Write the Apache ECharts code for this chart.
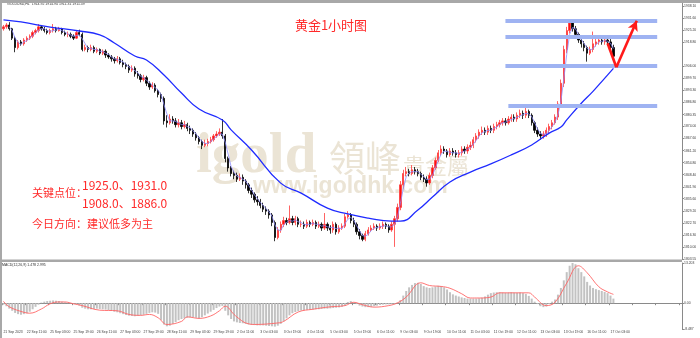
<!DOCTYPE html>
<html><head><meta charset="utf-8">
<script src="https://cdn.jsdelivr.net/npm/echarts@6/dist/echarts.min.js"></script>
<style>html,body{margin:0;padding:0;background:#fff}#c{width:700px;height:338px}</style>
</head><body><div id="c"></div>
<script>
// ---------- DATA (2-hour bars) ----------
const firstOpen = 1926;
const closes = [
1927,1928,1926,1921,1916,1919,1918,1920,1921,1922,
1924,1925,1927,1926,1925,1924,1925,1926,1925,1926,
1924,1923,1923,1922,1921,1924,1923,1915,1916,1915,
1916,1914,1915,1913,1914,1912,1911,1910,1909,1910,
1908,1907,1906,1904,1905,1902,1901,1899,1900,1897,
1895,1896,1893,1891,1889,1877,1876,1878,1877,1875,
1876,1874,1875,1873,1872,1870,1868,1866,1864,1865,
1866,1867,1869,1870,1871,1869,1857,1852,1849,1848,
1846,1847,1845,1843,1840,1838,1835,1834,1832,1830,
1829,1827,1823,1815,1819,1822,1824,1823,1825,1823,
1825,1822,1822,1821,1823,1822,1823,1821,1822,1820,
1822,1820,1819,1822,1818,1820,1821,1826,1827,1824,
1822,1818,1816,1814,1817,1819,1820,1821,1820,1821,
1822,1821,1819,1822,1825,1831,1843,1849,1850,1849,
1851,1850,1849,1847,1846,1844,1848,1852,1856,1860,
1862,1861,1859,1861,1860,1859,1860,1862,1861,1863,
1864,1867,1869,1871,1872,1871,1873,1872,1874,1875,
1876,1877,1876,1878,1879,1878,1880,1881,1880,1882,
1880,1876,1872,1870,1869,1870,1872,1874,1876,1879,
1886,1897,1915,1925,1929,1926,1923,1920,1918,1916,
1913,1915,1918,1919,1920,1919,1920,1919,1916,1911.39];
const highs = [
1928,1929,1929.5,1926.5,1922,1920,1920,1921,1922,1923,
1925,1926,1928.5,1928,1927,1926,1926,1928.5,1927,1927,
1926.5,1925,1924.5,1924,1923,1925,1925.5,1924,1917.5,1917,
1917.5,1917,1916,1915.5,1915,1915,1913,1912,1911,1911.5,
1911,1909.5,1908,1907,1906.5,1906,1903.5,1902,1901.5,1901,
1898,1897.5,1897,1894,1892,1890,1880,1880.5,1879.5,1878.5,
1878,1877.5,1877,1876,1874.5,1873,1871,1869,1867,1867,
1867.5,1868.5,1870,1871.5,1873,1878,1870,1858,1853,1850.5,
1849.5,1849,1848.5,1846,1844,1841.5,1839,1837,1835.5,1833.5,
1831.5,1830,1828,1824,1820.5,1823.5,1826,1825.5,1832,1826.5,
1826.5,1826,1824,1823.5,1824.5,1824,1824.5,1824,1823.5,1823,
1828,1823,1821.5,1823.5,1823,1821.5,1822.5,1827.5,1829,1828,
1825.5,1823,1819.5,1817,1818.5,1820.5,1821.5,1822.5,1822,1822.5,
1823.5,1823,1822,1823.5,1826.5,1833,1845,1851,1852.5,1851.5,
1853.5,1852.5,1851.5,1850,1848.5,1847.5,1849.5,1853.5,1857.5,1861.5,
1864,1863.5,1862,1862.5,1862.5,1861.5,1861.5,1863.5,1863.5,1864.5,
1866,1868.5,1870.5,1872.5,1874,1873.5,1874.5,1874.5,1875.5,1876.5,
1877.5,1878.5,1878.5,1879.5,1880.5,1880.5,1881.5,1883,1882.5,1884,
1883,1881,1877,1873.5,1871.5,1871.5,1873.5,1875.5,1877.5,1880.5,
1887.5,1899,1917,1927,1931,1930,1927.5,1924,1921.5,1919.5,
1917,1916.5,1924.5,1921,1921.5,1921.5,1921.5,1921.5,1920.5,1917.5];
const lows = [
1925,1926,1925,1920,1913.5,1915,1917,1917,1919,1920,
1921,1923,1924,1925,1924,1923,1923,1924,1924,1924.5,
1923,1922,1921.5,1921,1920,1920.5,1922,1914,1914,1913.5,
1914,1913,1913,1912,1912,1910.5,1910,1908.5,1907.5,1908,
1907,1905.5,1904.5,1902.5,1903,1900.5,1899.5,1897.5,1898,1895.5,
1893.5,1894,1892,1889.5,1887,1875,1873.5,1875,1875.5,1873.5,
1873.5,1872.5,1873,1871.5,1870,1868.5,1866.5,1864.5,1862,1863,
1863.5,1865,1866,1868,1869,1867.5,1855,1850,1847.5,1846,
1844.5,1845,1843,1841,1838.5,1836,1833.5,1832,1830.5,1828.5,
1827,1825,1821,1813,1814,1817.5,1820.5,1821.5,1822,1821.5,
1821.5,1820.5,1820.5,1819.5,1820,1820.5,1821,1819.5,1820,1818.5,
1819,1818.5,1817,1817.5,1816.5,1817,1819,1820,1825,1822.5,
1820.5,1816.5,1814,1813,1813,1816,1818,1819,1818.5,1819,
1819.5,1819.5,1817.5,1818,1810,1823.5,1829.5,1841,1847.5,1847.5,
1848,1848.5,1847.5,1845.5,1844.5,1842,1843,1846.5,1851,1855,
1858.5,1859.5,1857.5,1858,1858.5,1857.5,1857.5,1858.5,1859.5,1859.5,
1861.5,1862.5,1865.5,1867.5,1869.5,1869.5,1869.5,1870.5,1870.5,1872.5,
1873.5,1874.5,1874.5,1875,1876.5,1876.5,1876.5,1878.5,1878,1878.5,
1878.5,1874.5,1870.5,1868.5,1867,1867.5,1868.5,1870.5,1872.5,1875,
1877.5,1884.5,1895,1913,1923.5,1924.5,1921.5,1918.5,1916,1914,
1908.5,1912,1913.5,1916.5,1917.5,1917.5,1917.5,1917,1914,1910.5];
// slow moving average: [bar index, price]
const maSlow = [[0,1930.7],[6,1929.6],[16,1926.9],[26,1924.8],[33,1922.7],[38,1918.4],[45,1911.5],[49,1909.4],[55,1901.4],[61,1891.8],[67,1883.3],[75,1877.5],[78,1872.2],[85,1861.5],[95,1843.9],[102,1838.6],[111,1830.6],[118,1827.5],[125,1825.3],[133,1823.7],[136,1823.7],[142,1829.6],[147,1836.5],[153,1844.5],[160,1849.8],[167,1854.1],[174,1858.9],[181,1864.2],[187,1870.5],[191,1873.7],[193,1877.5],[198,1886.4],[202,1892.7],[205,1897.9],[209,1904.9]];
const macdHist = [
-0.5,-1.0,-1.8,-2.5,-3.2,-3.6,-3.8,-3.6,-3.3,-2.8,
-2.0,-1.2,-0.5,0.2,0.5,0.7,0.8,0.9,0.8,0.7,
0.5,0.3,0.1,-0.1,-0.3,-0.3,-0.8,-1.5,-1.8,-2.0,
-2.0,-1.9,-1.8,-1.9,-2.0,-2.1,-2.3,-2.5,-2.8,-3.0,
-3.3,-3.6,-3.9,-4.1,-4.2,-4.3,-4.2,-4.0,-3.8,-3.5,
-3.2,-3.0,-3.1,-3.5,-5.5,-7.0,-7.6,-7.4,-6.8,-6.2,
-5.6,-5.2,-5.0,-4.8,-4.7,-4.6,-4.8,-5.0,-4.6,-4.0,
-3.4,-2.8,-2.2,-1.6,-1.1,-0.9,-2.5,-4.0,-5.2,-6.0,
-6.3,-6.5,-6.6,-6.8,-7.0,-7.1,-7.2,-7.3,-7.3,-7.3,
-7.4,-7.5,-7.6,-7.7,-7.4,-6.8,-6.0,-5.0,-4.0,-3.3,
-2.9,-2.6,-2.4,-2.3,-2.2,-2.1,-2.1,-2.0,-2.0,-1.9,
-1.8,-1.8,-1.7,-1.6,-1.5,-1.4,-1.2,-0.8,0.4,0.7,
0.2,-0.3,-0.8,-1.1,-1.3,-1.3,-1.2,-1.0,-0.8,-0.6,
-0.5,-0.4,-0.4,-0.3,-0.3,0.2,1.0,2.5,4.0,5.2,
6.0,6.6,6.7,6.3,5.6,5.2,5.0,5.2,5.5,5.7,
5.6,5.2,4.5,3.6,2.9,2.5,2.2,1.9,1.7,1.5,
1.5,1.5,1.5,1.6,1.8,2.2,2.8,3.3,3.5,3.6,
3.6,3.5,3.4,3.5,3.6,3.5,3.4,3.5,3.3,3.0,
2.4,1.5,0.5,-0.3,-1.0,-1.3,-1.1,-0.3,0.5,1.2,
2.8,5.0,7.5,10.2,12.3,13.2,12.8,11.5,10.2,8.8,
7.0,5.8,5.0,4.6,4.3,4.0,3.7,3.3,2.5,1.5];
const macdSignal = [[0,0.6],[2,-1.2],[7,-3.0],[9,-3.3],[13,-1.9],[16,-0.2],[19,0.4],[21,0.4],[24,-0.2],[27,-0.8],[33,-2.3],[39,-2.5],[43,-3.7],[47,-4.0],[50,-3.7],[53,-4.8],[56,-7.0],[61,-6.0],[63,-4.5],[67,-5.0],[71,-4.2],[74,-2.5],[76,-1.0],[79,-3.7],[81,-5.3],[83,-6.5],[86,-7.0],[94,-6.5],[96,-6.0],[101,-2.9],[106,-2.0],[112,-1.2],[117,-0.8],[120,0.3],[123,-0.5],[127,-1.3],[132,-0.8],[135,0.1],[138,2.0],[143,6.7],[146,5.8],[150,5.5],[153,4.9],[157,3.1],[160,1.7],[163,1.7],[167,2.0],[170,3.4],[180,3.4],[182,2.0],[186,-0.8],[189,0.3],[193,6.6],[197,12.3],[200,10.0],[204,5.4],[207,3.7],[209,2.9]];
const priceTicks = [1938.10,1931.60,1925.20,1918.80,1906.00,1899.70,1893.30,1886.80,1880.35,1874.00,1867.60,1861.20,1854.80,1848.40,1841.90,1835.60,1829.20,1822.70,1816.30,1810.00,1803.55];
const macdTicks = [13.203, 0, -8.487];
const dateLabels = ['21 Sep 2023','22 Sep 11:00','25 Sep 03:00','25 Sep 19:00','26 Sep 11:00','27 Sep 03:00','27 Sep 19:00','28 Sep 11:00','29 Sep 03:00','29 Sep 19:00','2 Oct 11:00','3 Oct 03:00','3 Oct 19:00','4 Oct 11:00','5 Oct 03:00','5 Oct 19:00','6 Oct 11:00','9 Oct 03:00','9 Oct 19:00','10 Oct 11:00','11 Oct 03:00','11 Oct 19:00','12 Oct 11:00','13 Oct 03:00','13 Oct 19:00','16 Oct 11:00','17 Oct 03:00'];
const bandLevels = [1930.0, 1921.5, 1906.2, 1885.3];
const bandFrom = [172, 172, 172, 173], bandTo = [224, 224, 224, 224];
const arrowPath = [[207,1918.3],[210,1905.5],[217,1930.3]];
const header = 'GOLDUSD,H1  1914.92 1914.94 1911.31 1911.39';
const macdHeader = 'MACD(12,26,9) 1.478 2.995';
const title = '黄金1小时图';
const keyLabel = '关键点位：';
const keyLevels1 = '1925.0、1931.0';
const keyLevels2 = '1908.0、1886.0';
const direction = '今日方向：建议低多为主';

// ---------- BUILD ----------
const TOTAL = 233, STEP = 8;
const cats = Array.from({length: TOTAL}, (_, i) => String(i));
const candles = closes.map((c, i) => [i === 0 ? firstOpen : closes[i - 1], c, lows[i], highs[i]]);
const maFast = closes.map((c, i) => i < 2 ? null : +((closes[i] + closes[i - 1] + closes[i - 2]) / 3).toFixed(2));
const last = closes[closes.length - 1];
const mt = {fontSize: 3.4, color: '#404040', fontFamily: 'Liberation Sans'};
const wm = '#ebe4d5';
const red = '#ff2a2a';

const chart = echarts.init(document.getElementById('c'), null, {renderer: 'canvas'});
chart.setOption({
  animation: false,
  backgroundColor: '#fff',
  grid: [
    {left: 2, top: 3, width: 680, height: 256},
    {left: 2, top: 263, width: 680, height: 66}
  ],
  xAxis: [
    {type: 'category', gridIndex: 0, data: cats, show: false, boundaryGap: true},
    {type: 'category', gridIndex: 1, data: cats, boundaryGap: true,
      axisLine: {lineStyle: {color: '#8a8a8a', width: 1}},
      axisTick: {show: true, interval: STEP - 1, length: 2, lineStyle: {color: '#8a8a8a'}},
      axisLabel: Object.assign({interval: STEP - 1, margin: 1.5, align: 'left',
        formatter: (v, idx) => (idx % STEP === 0 && dateLabels[idx / STEP]) ? dateLabels[idx / STEP] : ''}, mt),
      splitLine: {show: false}}
  ],
  yAxis: [
    {type: 'value', gridIndex: 0, position: 'right', min: 1803.55, max: 1939.69, scale: true,
      axisLine: {show: true, lineStyle: {color: '#8a8a8a'}},
      axisTick: {show: true, length: 2, customValues: priceTicks, lineStyle: {color: '#8a8a8a'}},
      axisLabel: Object.assign({customValues: priceTicks, margin: 2, formatter: v => v.toFixed(2)}, mt),
      splitLine: {show: false}},
    {type: 'value', gridIndex: 1, position: 'right', min: -8.487, max: 13.203,
      axisLine: {show: true, lineStyle: {color: '#8a8a8a'}},
      axisTick: {show: true, length: 2, customValues: macdTicks, lineStyle: {color: '#8a8a8a'}},
      axisLabel: Object.assign({customValues: macdTicks, margin: 2, formatter: v => v === 0 ? '0.00' : v.toFixed(3)}, mt),
      splitLine: {show: false}}
  ],
  series: [
    {type: 'candlestick', xAxisIndex: 0, yAxisIndex: 0, data: candles, barWidth: 1.8, z: 3,
      itemStyle: {color: '#ff1010', color0: '#000000', borderColor: '#ff3b3b', borderColor0: '#000000', borderWidth: 0.8},
      markLine: {silent: true, symbol: ['none', 'none'], animation: false,
        data: bandLevels.map((v, k) => [
          {coord: [bandFrom[k], v], lineStyle: {color: '#9fb3f2', width: 4, type: 'solid'}, label: {show: false}},
          {coord: [bandTo[k], v]}
        ]).concat([{yAxis: last, lineStyle: {opacity: 0}, label: {show: true, position: 'end', distance: 1,
          formatter: last.toFixed(2), color: '#fff', backgroundColor: '#000', padding: [1, 1, 0.5, 1],
          fontSize: 3.6, fontFamily: 'Liberation Sans'}}])
      }},
    {type: 'line', xAxisIndex: 0, yAxisIndex: 0, data: maFast, symbol: 'none', z: 4,
      lineStyle: {color: '#8d8dff', width: 0.8}},
    {type: 'line', xAxisIndex: 0, yAxisIndex: 0, data: maSlow, symbol: 'none', smooth: 0.5, z: 4,
      lineStyle: {color: '#1f2bff', width: 1.3},
      markLine: {silent: true, animation: false, symbol: ['none', 'none'],
        lineStyle: {color: '#ff1a1a', width: 2.6, type: 'solid'}, label: {show: false},
        data: [
          [{coord: arrowPath[0]}, {coord: arrowPath[1]}],
          [{coord: arrowPath[1], symbol: 'none'}, {coord: arrowPath[2], symbol: 'arrow', symbolSize: [8, 10]}]
        ]}},
    {type: 'bar', xAxisIndex: 1, yAxisIndex: 1, data: macdHist, barWidth: 2, z: 2,
      itemStyle: {color: '#c2c2c2'}},
    {type: 'line', xAxisIndex: 1, yAxisIndex: 1, data: macdSignal, symbol: 'none', smooth: 0.4, z: 4,
      lineStyle: {color: '#ff6464', width: 0.9}}
  ],
  graphic: [
    {type: 'rect', shape: {x: 0, y: 0, width: 700, height: 3}, style: {fill: '#a8a8a8'}, z: 50},
    {type: 'rect', shape: {x: 0, y: 0, width: 2, height: 338}, style: {fill: '#a8a8a8'}, z: 50},
    {type: 'rect', shape: {x: 0, y: 259.5, width: 682, height: 2.5}, style: {fill: '#a8a8a8'}, z: 50},
    {type: 'text', x: 196, y: 157, z: -5, style: {text: 'igold', font: 'bold 57px "Liberation Serif"', fill: wm, verticalAlign: 'middle'}},
    {type: 'text', x: 329, y: 158, z: -5, style: {text: '領峰', font: '36px "Noto Sans CJK TC"', fill: wm, verticalAlign: 'middle'}},
    {type: 'text', x: 403, y: 166, z: -5, style: {text: '貴金屬', font: '22px "Noto Sans CJK TC"', fill: wm, verticalAlign: 'middle'}},
    {type: 'text', x: 253, y: 187, z: -5, style: {text: 'www.igoldhk.com', font: 'bold 23px "Liberation Sans"', fill: wm, verticalAlign: 'middle'}},
    {type: 'text', x: 7, y: 4.5, z: 20, style: {text: header, font: '3.5px "Liberation Sans"', fill: '#303030', verticalAlign: 'middle'}},
    {type: 'text', x: 2, y: 265, z: 20, style: {text: macdHeader, font: '3.5px "Liberation Sans"', fill: '#303030', verticalAlign: 'middle'}},
    {type: 'text', x: 331, y: 25, z: 20, style: {text: title, font: '13px "Noto Sans CJK SC"', fill: red, align: 'center', verticalAlign: 'middle'}},
    {type: 'text', x: 32, y: 193, z: 20, style: {text: keyLabel, font: '11px "Noto Sans CJK SC"', fill: red, verticalAlign: 'middle'}},
    {type: 'text', x: 82, y: 185, z: 20, style: {text: keyLevels1, font: '12px "Noto Sans CJK SC"', fill: red, verticalAlign: 'middle'}},
    {type: 'text', x: 82, y: 203.5, z: 20, style: {text: keyLevels2, font: '12px "Noto Sans CJK SC"', fill: red, verticalAlign: 'middle'}},
    {type: 'text', x: 32, y: 223.5, z: 20, style: {text: direction, font: '11px "Noto Sans CJK SC"', fill: red, verticalAlign: 'middle'}}
  ]
});
</script></body></html>
